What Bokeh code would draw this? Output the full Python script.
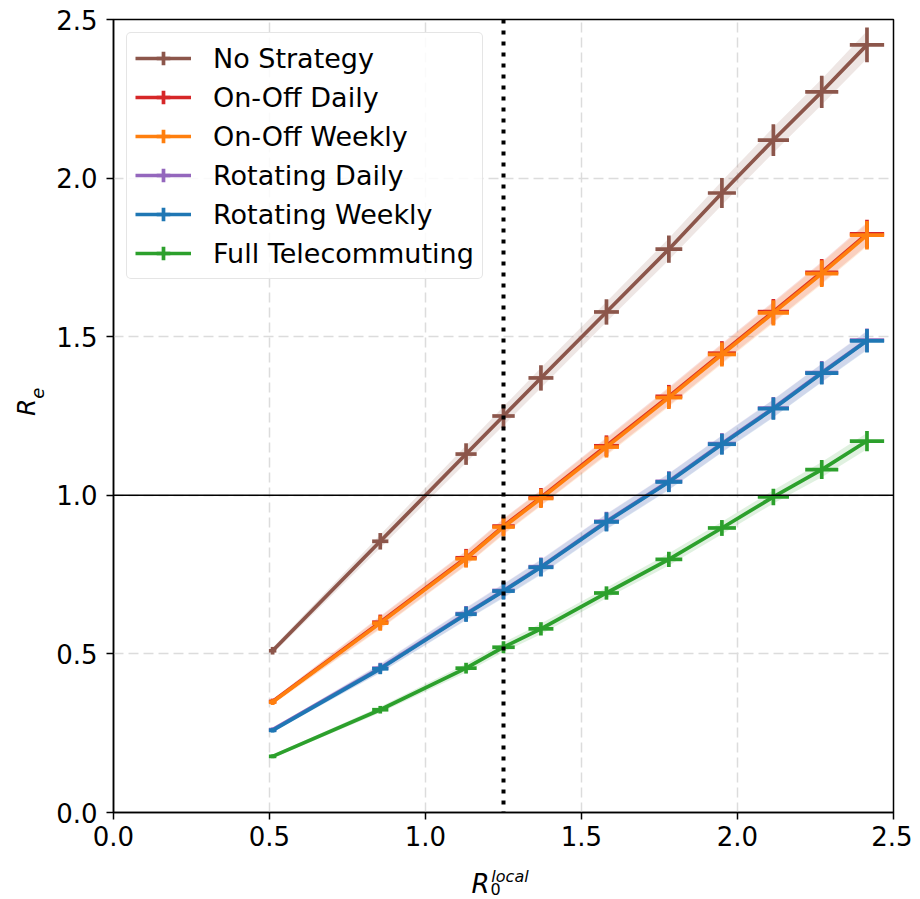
from math import pi

from bokeh.embed import file_html
from bokeh.layouts import column, row
from bokeh.models import (FixedTicker, Label, Legend, LegendItem,
                          PrintfTickFormatter, Range1d, Span)
from bokeh.plotting import figure
from bokeh.resources import INLINE

# ---------------- data ----------------
r0_local = [0.51, 0.855, 1.13, 1.25, 1.37, 1.58, 1.78, 1.95, 2.115, 2.27, 2.415]
r0_err = [0.012, 0.026, 0.034, 0.036, 0.040, 0.040, 0.043, 0.045, 0.050, 0.053, 0.055]

re_no_strategy = [0.51, 0.855, 1.13, 1.25, 1.37, 1.578, 1.776, 1.953, 2.12, 2.272, 2.42]
err_no_strategy = [0.012, 0.026, 0.034, 0.037, 0.040, 0.040, 0.043, 0.047, 0.050, 0.051, 0.055]

re_onoff_daily = [0.350, 0.600, 0.803, 0.903, 0.993, 1.156, 1.312, 1.448, 1.579, 1.703, 1.824]
err_onoff_daily = [0.009, 0.024, 0.028, 0.030, 0.030, 0.033, 0.036, 0.038, 0.040, 0.042, 0.045]

re_onoff_weekly = [0.348, 0.597, 0.800, 0.900, 0.990, 1.152, 1.308, 1.444, 1.575, 1.699, 1.820]
err_onoff_weekly = [0.009, 0.024, 0.028, 0.030, 0.030, 0.033, 0.036, 0.038, 0.040, 0.042, 0.045]

re_rot_daily = [0.261, 0.455, 0.627, 0.700, 0.775, 0.918, 1.044, 1.163, 1.275, 1.387, 1.489]
err_rot_daily = [0.007, 0.017, 0.024, 0.027, 0.029, 0.030, 0.032, 0.033, 0.035, 0.036, 0.037]

re_rot_weekly = [0.259, 0.453, 0.625, 0.698, 0.773, 0.916, 1.042, 1.161, 1.273, 1.385, 1.487]
err_rot_weekly = [0.007, 0.017, 0.024, 0.027, 0.029, 0.030, 0.032, 0.033, 0.035, 0.036, 0.037]

re_full_tele = [0.177, 0.324, 0.455, 0.521, 0.579, 0.692, 0.798, 0.897, 0.995, 1.081, 1.171]
err_full_tele = [0.006, 0.012, 0.017, 0.019, 0.021, 0.021, 0.024, 0.025, 0.026, 0.030, 0.032]

series_labels = ["No Strategy", "On-Off Daily", "On-Off Weekly",
                 "Rotating Daily", "Rotating Weekly", "Full Telecommuting"]
series_values = [re_no_strategy, re_onoff_daily, re_onoff_weekly,
                 re_rot_daily, re_rot_weekly, re_full_tele]
series_errors = [err_no_strategy, err_onoff_daily, err_onoff_weekly,
                 err_rot_daily, err_rot_weekly, err_full_tele]
series_colors = ["#8c564b", "#d62728", "#ff7f0e", "#9467bd", "#1f77b4", "#2ca02c"]

tick_values = [0.0, 0.5, 1.0, 1.5, 2.0, 2.5]
threshold_re = 1.0
reference_r0 = 1.25

# ---------------- style / layout ----------------
FONT = "DejaVu Sans"
LW = 3.7
BAND_SCALE = 0.8
BAND_ALPHA = 0.15

YLAB_W = 50          # width of the strip holding the y-axis label
MAIN_H = 866         # height of the main figure
XLAB_H = 32          # height of the strip holding the x-axis label
FRAME_L, FRAME_T = 113, 19
FRAME_W, FRAME_H = 780, 793
TOTAL_W = 912
MAIN_W = TOTAL_W - YLAB_W

p = figure(
    title=None, output_backend="svg", toolbar_location=None,
    x_range=Range1d(0, 2.5), y_range=Range1d(0, 2.5),
    width=MAIN_W, height=MAIN_H,
    min_border_left=FRAME_L - YLAB_W, min_border_right=TOTAL_W - FRAME_L - FRAME_W,
    min_border_top=FRAME_T, min_border_bottom=MAIN_H - FRAME_T - FRAME_H,
    background_fill_color="white", border_fill_color="white",
)

p.outline_line_color = "black"
p.outline_line_width = 1.5

for ax in (p.xaxis[0], p.yaxis[0]):
    ax.ticker = FixedTicker(ticks=tick_values)
    ax.formatter = PrintfTickFormatter(format="%.1f")
    ax.axis_line_color = "black"
    ax.axis_line_width = 1.5
    ax.major_tick_line_color = "black"
    ax.major_tick_line_width = 1.5
    ax.major_tick_out = 7
    ax.major_tick_in = 0
    ax.minor_tick_line_color = None
    ax.major_label_text_font = FONT
    ax.major_label_text_font_size = "26px"
    ax.major_label_text_color = "black"
p.xaxis.major_label_standoff = 6
p.yaxis.major_label_standoff = 9

for g in (p.xgrid[0], p.ygrid[0]):
    g.ticker = FixedTicker(ticks=tick_values)
    g.grid_line_color = "#dcdcdc"
    g.grid_line_width = 1.5
    g.grid_line_dash = "10 5"

legend_items = []
for name, ys, errs, col in zip(series_labels, series_values, series_errors, series_colors):
    lo = [y - BAND_SCALE * e for y, e in zip(ys, errs)]
    hi = [y + BAND_SCALE * e for y, e in zip(ys, errs)]
    p.varea(x=r0_local, y1=lo, y2=hi, fill_color=col, fill_alpha=BAND_ALPHA)
    line_r = p.line(r0_local, ys, line_color=col, line_width=LW)
    # error bars (crosses)
    p.segment(x0=[x - e for x, e in zip(r0_local, r0_err)], y0=ys,
              x1=[x + e for x, e in zip(r0_local, r0_err)], y1=ys,
              line_color=col, line_width=LW)
    p.segment(x0=r0_local, y0=[y - e for y, e in zip(ys, errs)],
              x1=r0_local, y1=[y + e for y, e in zip(ys, errs)],
              line_color=col, line_width=LW)
    # legend-only cross marker (zero size on the plot)
    cross_r = p.scatter(r0_local, ys, marker="cross", size=0,
                        line_color=col, line_width=LW)
    legend_items.append(LegendItem(label=name, renderers=[line_r, cross_r]))

p.add_layout(Span(location=threshold_re, dimension="width",
                  line_color="black", line_width=1.6))
p.add_layout(Span(location=reference_r0, dimension="height",
                  line_color="black", line_width=4, line_dash="4 7"))

legend = Legend(items=legend_items, location="top_left", margin=13)
legend.glyph_width = 56
legend.glyph_height = 34
legend.label_height = 34
legend.label_standoff = 22
legend.spacing = 5
legend.padding = 8
legend.label_text_font = FONT
legend.label_text_font_size = "27px"
legend.label_text_color = "black"
legend.border_line_color = "#cccccc"
legend.border_line_width = 1.2
legend.border_radius = 5
legend.background_fill_alpha = 0.85
p.add_layout(legend)


def strip(w, h, top):
    """A blank figure whose data coordinates equal page pixels (x right, y down)."""
    f = figure(title=None, output_backend="svg", toolbar_location=None,
               x_axis_type=None, y_axis_type=None,
               x_range=Range1d(0, w), y_range=Range1d(top + h, top),
               width=w, height=h,
               min_border=0, min_border_left=0, min_border_right=0,
               min_border_top=0, min_border_bottom=0,
               background_fill_color="white", border_fill_color="white")
    f.outline_line_color = None
    f.xgrid.visible = False
    f.ygrid.visible = False
    return f


def label(fig, x, y, text, size, italic=True, angle=0.0):
    fig.add_layout(Label(x=x, y=y, text=text, text_font=FONT,
                         text_font_style="italic" if italic else "normal",
                         text_font_size=size, angle=angle, text_color="black",
                         text_align="center", text_baseline="middle"))


# y-axis label: R_e  (centres of the text boxes, in page pixels)
yl = strip(YLAB_W, MAIN_H, 0)
label(yl, 25.5, 423.5, "R", "25px", angle=pi / 2)
label(yl, 36.5, 408, "e", "18px", angle=pi / 2)

# x-axis label: R_0^{local}
xl = strip(TOTAL_W, XLAB_H, MAIN_H)
label(xl, 480, 883, "R", "26px")
label(xl, 509.5, 875.5, "local", "16px")
label(xl, 495, 888.5, "0", "16px", italic=False)

layout = column(row(yl, p, spacing=0), xl, spacing=0)
open("out.html", "w").write(file_html(layout, INLINE))
